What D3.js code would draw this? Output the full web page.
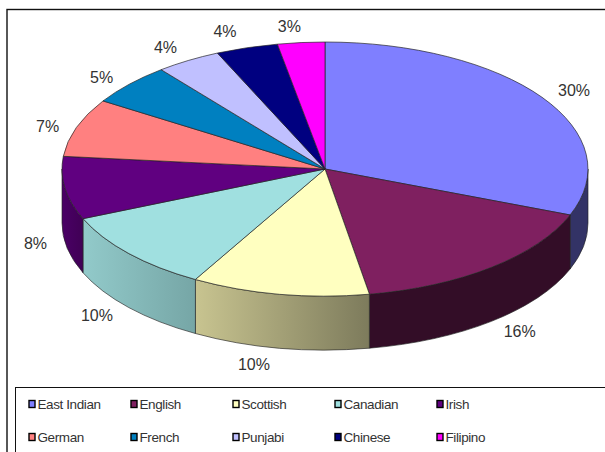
<!DOCTYPE html>
<html><head><meta charset="utf-8">
<style>html,body{margin:0;padding:0;background:#fff;overflow:hidden}svg{display:block}text{font-family:"Liberation Sans",Arial,sans-serif}</style>
<script src="https://cdn.jsdelivr.net/npm/d3@7/dist/d3.min.js"></script></head><body>
<svg id="c" width="605" height="452"></svg>
<script>
const categories=["East Indian","English","Scottish","Canadian","Irish","German","French","Punjabi","Chinese","Filipino"];
const values=[30.9,16.4,10.9,10.4,8.0,7.4,5.3,4.0,3.8,2.9];
const valueLabels=["30%","16%","10%","10%","8%","7%","5%","4%","4%","3%"];
const topColors=["#7f7fff","#7f2060","#ffffc0","#a0e0e0","#600080","#ff8080","#0080c0","#c0c0ff","#000080","#ff00ff"];
const wallStart=["#333366","#330d27","#c8c490","#92caca","#4a0066"];
const wallEnd=["#333366","#330d27","#7d7b5c","#76a6a6","#400055"];
const labelNudge=[[-1,0],[3,13],[-19,5],[-2,18],[10,46],[9,3],[2,1],[-2,-3],[-10,-5],[-8,-4]];

const cx=325,cy=169,rx=263,ry=127,depth=54;
const svg=d3.select("#c");
const defs=svg.append("defs");
svg.append("rect").attr("x",7).attr("y",9.5).attr("width",640).attr("height",480).attr("fill","#fff").attr("stroke","#111").attr("stroke-width",1.4);

const arcs=d3.pie().sort(null).value(d=>d)(values);
const X=d3.scaleLinear().domain([-1,1]).range([cx-rx,cx+rx]);
const Y=d3.scaleLinear().domain([-1,1]).range([cy-ry,cy+ry]);
const px=a=>X(Math.sin(a)),py=a=>Y(-Math.cos(a));

// side walls (only the front half of the ellipse is visible)
const lo=Math.PI/2,hi=3*Math.PI/2;
arcs.forEach((d,i)=>{
  const a0=Math.max(d.startAngle,lo),a1=Math.min(d.endAngle,hi);
  if(a1<=a0)return;
  const g=defs.append("linearGradient").attr("id","w"+i);
  g.append("stop").attr("offset",0).attr("stop-color",wallStart[i]);
  g.append("stop").attr("offset",1).attr("stop-color",wallEnd[i]);
  const p=`M${px(a0)},${py(a0)}A${rx},${ry} 0 0 1 ${px(a1)},${py(a1)}L${px(a1)},${py(a1)+depth}A${rx},${ry} 0 0 0 ${px(a0)},${py(a0)+depth}Z`;
  svg.append("path").attr("d",p).attr("fill",`url(#w${i})`).attr("stroke","#222").attr("stroke-width",.8).attr("stroke-opacity",.8);
});

// top face
const arc=d3.arc().innerRadius(0).outerRadius(1);
svg.append("g").attr("transform",`translate(${cx},${cy}) scale(${rx},${ry})`)
  .selectAll("path").data(arcs).join("path").attr("d",arc)
  .attr("fill",(d,i)=>topColors[i]).attr("stroke","#222").attr("stroke-width",.8).attr("stroke-opacity",.85)
  .attr("vector-effect","non-scaling-stroke");

// data labels
svg.append("g").selectAll("text").data(arcs).join("text")
  .attr("x",(d,i)=>{const m=(d.startAngle+d.endAngle)/2;return cx+(rx+40)*Math.sin(m)+labelNudge[i][0];})
  .attr("y",(d,i)=>{const m=(d.startAngle+d.endAngle)/2,c=Math.cos(m);return cy-(ry+12)*c+(c<0?-c*depth:0)+labelNudge[i][1];})
  .attr("text-anchor","middle").attr("dominant-baseline","central")
  .attr("font-size",16).attr("fill","#333").text((d,i)=>valueLabels[i]);

// legend
svg.append("rect").attr("x",15.5).attr("y",387.5).attr("width",640).attr("height",100).attr("fill","#fff").attr("stroke","#111");
const colX=d3.scalePoint().domain(d3.range(5)).range([28.5,436.5]);
const rowY=d3.scalePoint().domain([0,1]).range([404,437]);
const items=svg.append("g").selectAll("g").data(categories).join("g")
  .attr("transform",(d,i)=>`translate(${colX(i%5)},${rowY(Math.floor(i/5))})`);
items.append("rect").attr("x",.5).attr("y",-3.5).attr("width",6).attr("height",7)
  .attr("fill",(d,i)=>topColors[i]).attr("stroke","#000").attr("stroke-width",1.4);
items.append("text").attr("x",9).attr("y",0).attr("dominant-baseline","central")
  .attr("font-size",13.5).attr("letter-spacing","-0.4").attr("fill","#333").text(d=>d);
</script></body></html>
